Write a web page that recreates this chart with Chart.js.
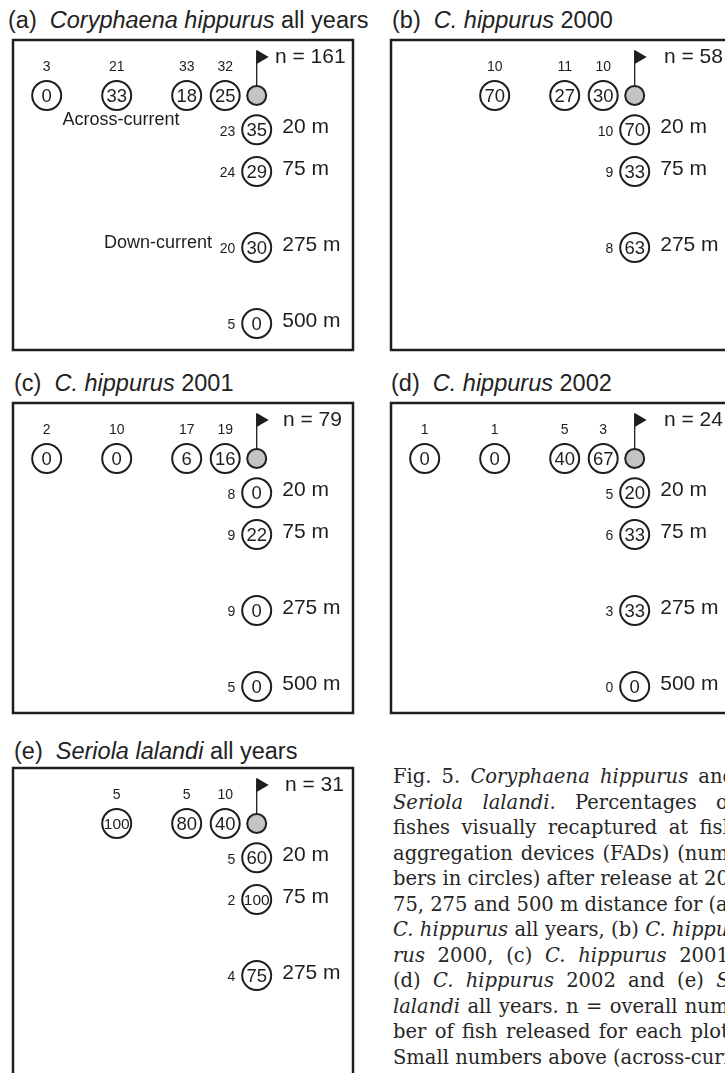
<!DOCTYPE html>
<html>
<head>
<meta charset="utf-8">
<script src="https://cdn.jsdelivr.net/npm/chart.js@4.4.1/dist/chart.umd.min.js"></script>
<style>
  html, body { margin: 0; padding: 0; width: 725px; height: 1073px; overflow: hidden; background: #fff; }
  .ttl { position: absolute; font-family: "Liberation Sans", Arial, sans-serif; font-size: 23.5px; line-height: 24px; color: #222; white-space: nowrap; }
  canvas.panel { position: absolute; }
  #cap { position: absolute; left: 393px; top: 764px; width: 342px; font-family: "DejaVu Serif", serif; font-size: 19.5px; line-height: 25.5px; color: #262626; }
  #cap div { text-align: justify; text-align-last: justify; white-space: nowrap; }
  #cap div.last { text-align: left; text-align-last: left; }
</style>
</head>
<body>
<div id="fig"></div>
<div id="cap">
  <div>Fig. 5. <i>Coryphaena hippurus</i> and</div>
  <div><i>Seriola lalandi.</i> Percentages of</div>
  <div>fishes visually recaptured at fish</div>
  <div>aggregation devices (FADs) (num-</div>
  <div>bers in circles) after release at 20,</div>
  <div>75, 275 and 500 m distance for (a)</div>
  <div><i>C. hippurus</i> all years, (b) <i>C. hippu-</i></div>
  <div><i>rus</i> 2000, (c) <i>C. hippurus</i> 2001,</div>
  <div>(d) <i>C. hippurus</i> 2002 and (e) <i>S.</i></div>
  <div><i>lalandi</i> all years. n = overall num-</div>
  <div>ber of fish released for each plot.</div>
  <div class="last">Small numbers above (across-current)</div>
</div>
<script>
// Release distances (m), in the order used by every series below
const distances = [20, 75, 275, 500];

// Panel totals (n = fish released)
const panelTotals = [161, 58, 79, 24, 31];

// (a) C. hippurus, all years
const aAcrossN   = [32, 33, 21, 3];
const aAcrossPct = [25, 18, 33, 0];
const aDownN     = [23, 24, 20, 5];
const aDownPct   = [35, 29, 30, 0];

// (b) C. hippurus 2000
const bAcrossN   = [10, 11, 10, null];
const bAcrossPct = [30, 27, 70, null];
const bDownN     = [10, 9, 8, null];
const bDownPct   = [70, 33, 63, null];

// (c) C. hippurus 2001
const cAcrossN   = [19, 17, 10, 2];
const cAcrossPct = [16, 6, 0, 0];
const cDownN     = [8, 9, 9, 5];
const cDownPct   = [0, 22, 0, 0];

// (d) C. hippurus 2002
const dAcrossN   = [3, 5, 1, 1];
const dAcrossPct = [67, 40, 0, 0];
const dDownN     = [5, 6, 3, 0];
const dDownPct   = [20, 33, 33, 0];

// (e) Seriola lalandi, all years
const eAcrossN   = [10, 5, 5, null];
const eAcrossPct = [40, 80, 100, null];
const eDownN     = [5, 2, 4, null];
const eDownPct   = [60, 100, 75, null];

// Panel headings: [letter, italic name, plain suffix]
const panelTitles = [
  ['(a)', 'Coryphaena hippurus', 'all years'],
  ['(b)', 'C. hippurus', '2000'],
  ['(c)', 'C. hippurus', '2001'],
  ['(d)', 'C. hippurus', '2002'],
  ['(e)', 'Seriola lalandi', 'all years']
];

// ---- layout ----
const INK = '#1e1e1e';
const FONT = '"Liberation Sans", Arial, sans-serif';
const BOX_W = 340, BOX_H = 310, PAD = 2;
const RING = 14.5, FAD_R = 9.5;
// schematic slot of each distance along the current axes (not to scale)
const slotOf = { 20: 0.9, 75: 2, 275: 4, 500: 6 };

const panelBoxes = [
  { left: 13.3, top: 39.5, titleX: 8,   titleY: 8,   nX: 262 },
  { left: 391.3, top: 39.5, titleX: 392, titleY: 8,  nX: 273 },
  { left: 13.3, top: 402.5, titleX: 14, titleY: 371, nX: 270 },
  { left: 391.3, top: 402.5, titleX: 391, titleY: 371, nX: 273 },
  { left: 13.3, top: 768, titleX: 14,  titleY: 739, nX: 272 }
];

const panelSeries = [
  [aAcrossN, aAcrossPct, aDownN, aDownPct],
  [bAcrossN, bAcrossPct, bDownN, bDownPct],
  [cAcrossN, cAcrossPct, cDownN, cDownPct],
  [dAcrossN, dAcrossPct, dDownN, dDownPct],
  [eAcrossN, eAcrossPct, eDownN, eDownPct]
];

function buildPoints(series) {
  const [acN, acP, dnN, dnP] = series;
  const pts = [];
  distances.forEach((d, i) => {
    if (acN[i] !== null) pts.push({ x: -slotOf[d], y: 0, n: acN[i], pct: acP[i], dir: 'across', dist: d });
  });
  distances.forEach((d, i) => {
    if (dnN[i] !== null) pts.push({ x: 0, y: slotOf[d], n: dnN[i], pct: dnP[i], dir: 'down', dist: d });
  });
  return pts;
}

// Draws the frame, FAD flag and all number/text annotations
const annotate = {
  id: 'annotate',
  afterDatasetsDraw(chart, args, opts) {
    const { ctx, chartArea: ca, scales } = chart;
    const xs = scales.x, ys = scales.y;
    ctx.save();
    // frame
    ctx.strokeStyle = INK;
    ctx.lineWidth = 2.5;
    ctx.strokeRect(ca.left, ca.top, ca.right - ca.left, ca.bottom - ca.top);

    // flag on the FAD
    const fx = xs.getPixelForValue(0), fy = ys.getPixelForValue(0);
    ctx.lineWidth = 1.3;
    ctx.beginPath();
    ctx.moveTo(fx, fy - FAD_R);
    ctx.lineTo(fx, fy - 45);
    ctx.stroke();
    ctx.fillStyle = INK;
    ctx.beginPath();
    ctx.moveTo(fx, fy - 45.5);
    ctx.lineTo(fx + 12, fy - 38.5);
    ctx.lineTo(fx, fy - 31.5);
    ctx.closePath();
    ctx.fill();

    // circle contents and counts
    ctx.fillStyle = INK;
    const pts = chart.data.datasets[0].data;
    pts.forEach(p => {
      const cx = xs.getPixelForValue(p.x), cy = ys.getPixelForValue(p.y);
      const txt = String(p.pct);
      ctx.textAlign = 'center';
      ctx.textBaseline = 'middle';
      if (txt.length > 2) {
        ctx.font = '15.5px ' + FONT;
      } else {
        ctx.font = '18.5px ' + FONT;
      }
      ctx.fillText(txt, cx, cy + 1);
      ctx.font = '14px ' + FONT;
      if (p.dir === 'across') {
        ctx.fillText(String(p.n), cx, cy - 28);
      } else {
        ctx.textAlign = 'right';
        ctx.fillText(String(p.n), cx - 21.5, cy + 2);
        ctx.textAlign = 'left';
        ctx.font = '21px ' + FONT;
        ctx.fillText(p.dist + ' m', cx + 25.5, cy - 2);
      }
    });

    // sample size
    ctx.textAlign = 'left';
    ctx.font = '21px ' + FONT;
    ctx.fillText('n = ' + opts.total, ca.left + opts.nX, ca.top + 17.5);

    // current direction labels
    if (opts.directions) {
      ctx.font = '18px ' + FONT;
      ctx.textAlign = 'center';
      ctx.fillText('Across-current', ca.left + 108, ca.top + 80.5);
      ctx.textAlign = 'right';
      ctx.fillText('Down-current', ca.left + 199, ca.top + 203.5);
    }
    ctx.restore();
  }
};

const fig = document.getElementById('fig');
panelBoxes.forEach((box, k) => {
  // heading
  const t = document.createElement('div');
  t.className = 'ttl';
  t.style.left = box.titleX + 'px';
  t.style.top = box.titleY + 'px';
  const [lab, ital, rest] = panelTitles[k];
  t.innerHTML = lab + '&nbsp; <i>' + ital + '</i> ' + rest;
  fig.appendChild(t);

  const cv = document.createElement('canvas');
  cv.className = 'panel';
  cv.width = BOX_W + 2 * PAD;
  cv.height = BOX_H + 2 * PAD;
  cv.style.left = (box.left - PAD) + 'px';
  cv.style.top = (box.top - PAD) + 'px';
  fig.appendChild(cv);

  // across axis: 35 px per slot, FAD 243.7 px from the left edge
  const xUnit = 35, fadX = 243.7;
  const xMin = -fadX / xUnit, xMax = xMin + BOX_W / xUnit;
  // down axis: 38 px per slot, FAD 55.5 px below the top edge
  const yUnit = 38, fadY = 55.5;
  const yMin = -fadY / yUnit, yMax = yMin + BOX_H / yUnit;

  new Chart(cv, {
    type: 'scatter',
    data: {
      datasets: [
        {
          data: buildPoints(panelSeries[k]),
          pointRadius: RING, pointHoverRadius: RING,
          pointBackgroundColor: '#ffffff', pointBorderColor: INK, pointBorderWidth: 2
        },
        {
          data: [{ x: 0, y: 0 }],
          pointRadius: FAD_R, pointHoverRadius: FAD_R,
          pointBackgroundColor: '#c4c4c4', pointBorderColor: INK, pointBorderWidth: 2
        }
      ]
    },
    options: {
      responsive: false, animation: false, devicePixelRatio: 1, events: [],
      layout: { padding: PAD, autoPadding: false },
      scales: {
        x: { type: 'linear', display: false, min: xMin, max: xMax },
        y: { type: 'linear', display: false, reverse: true, min: yMin, max: yMax }
      },
      plugins: {
        legend: { display: false },
        tooltip: { enabled: false },
        annotate: { total: panelTotals[k], nX: box.nX, directions: k === 0 }
      }
    },
    plugins: [annotate]
  });
});
</script>
</body>
</html>
